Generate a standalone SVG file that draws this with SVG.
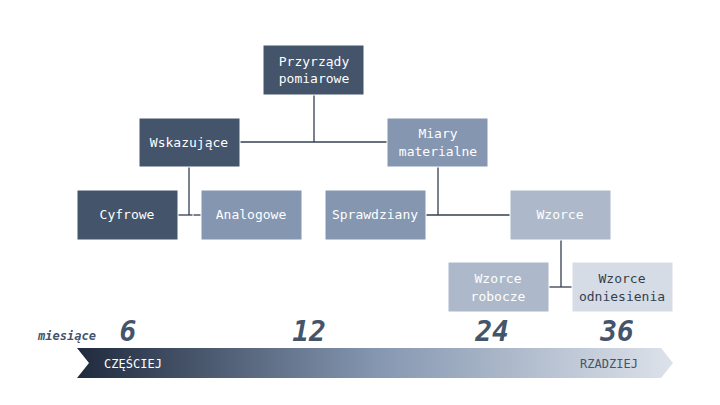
<svg xmlns="http://www.w3.org/2000/svg" width="720" height="405" viewBox="0 0 720 405">
<defs>
<linearGradient id="g" x1="0" x2="1" y1="0" y2="0">
<stop offset="0" stop-color="#1f2a3d"/><stop offset="0.5" stop-color="#8496b0"/><stop offset="1" stop-color="#dde2ea"/>
</linearGradient>
<style>
text{font-family:"DejaVu Sans Mono",monospace;font-size:13px;text-anchor:middle}
.d{fill:#44546b}.m{fill:#8496b0}.l{fill:#adb9ca}.x{fill:#d6dce5}
rect{stroke:#ffffff;stroke-width:1}
.w{fill:#ffffff}.k{fill:#333f50}
.c line{stroke:#333f50;stroke-width:1.3}
.n{font-size:28px;font-weight:bold;font-style:italic;fill:#44546b}
</style>
</defs>
<rect width="720" height="405" fill="#ffffff" stroke="none"/>
<g class="c">
<line x1="314" y1="95" x2="314" y2="142"/><line x1="240" y1="142" x2="387" y2="142"/>
<line x1="189" y1="167" x2="189" y2="215"/><line x1="178" y1="215" x2="201" y2="215"/>
<line x1="438" y1="167" x2="438" y2="215"/><line x1="426" y1="215" x2="510" y2="215"/>
<line x1="561" y1="240" x2="561" y2="287"/><line x1="549" y1="287" x2="572" y2="287"/>
</g>
<rect x="193" y="175" width="239" height="83" fill="none" stroke="#1f2a3d" stroke-width="2" stroke-dasharray="6,4"/>
<g id="przyrzady"><rect class="d" x="263" y="45" width="101" height="50"/><text class="w" x="314" y="66">Przyrządy</text><text class="w" x="314" y="83">pomiarowe</text></g>
<g id="wskazujace"><rect class="d" x="139" y="118" width="101" height="49"/><text class="w" x="189" y="147">Wskazujące</text></g>
<g id="miary"><rect class="m" x="387" y="118" width="101" height="49"/><text class="w" x="438" y="138">Miary</text><text class="w" x="438" y="156">materialne</text></g>
<g id="cyfrowe"><rect class="d" x="77" y="190" width="101" height="50"/><text class="w" x="127" y="219">Cyfrowe</text></g>
<g id="analogowe"><rect class="m" x="201" y="190" width="101" height="50"/><text class="w" x="251" y="219">Analogowe</text></g>
<g id="sprawdziany"><rect class="m" x="325" y="190" width="101" height="50"/><text class="w" x="375" y="219">Sprawdziany</text></g>
<g id="wzorce"><rect class="l" x="510" y="190" width="101" height="50"/><text class="w" x="560" y="219">Wzorce</text></g>
<g id="robocze"><rect class="l" x="448" y="262" width="101" height="50"/><text class="w" x="498" y="283">Wzorce</text><text class="w" x="498" y="301">robocze</text></g>
<g id="odniesienia"><rect class="x" x="572" y="262" width="101" height="50"/><text class="k" x="622" y="283">Wzorce</text><text class="k" x="622" y="301">odniesienia</text></g>
<g id="axis">
<polygon points="77,348 661,348 673,363 661,378 77,378 89,363" fill="url(#g)" stroke="none"/>
<text x="133" y="368" class="w" style="font-size:12px">CZĘŚCIEJ</text>
<text x="609" y="368" style="font-size:12px;fill:#44546b">RZADZIEJ</text>
<text x="67" y="340" style="font-size:12px;font-weight:bold;font-style:italic;fill:#44546b">miesiące</text>
<text class="n" x="128" y="341">6</text><text class="n" x="309" y="341">12</text><text class="n" x="492" y="341">24</text><text class="n" x="617" y="341">36</text>
</g>
</svg>
